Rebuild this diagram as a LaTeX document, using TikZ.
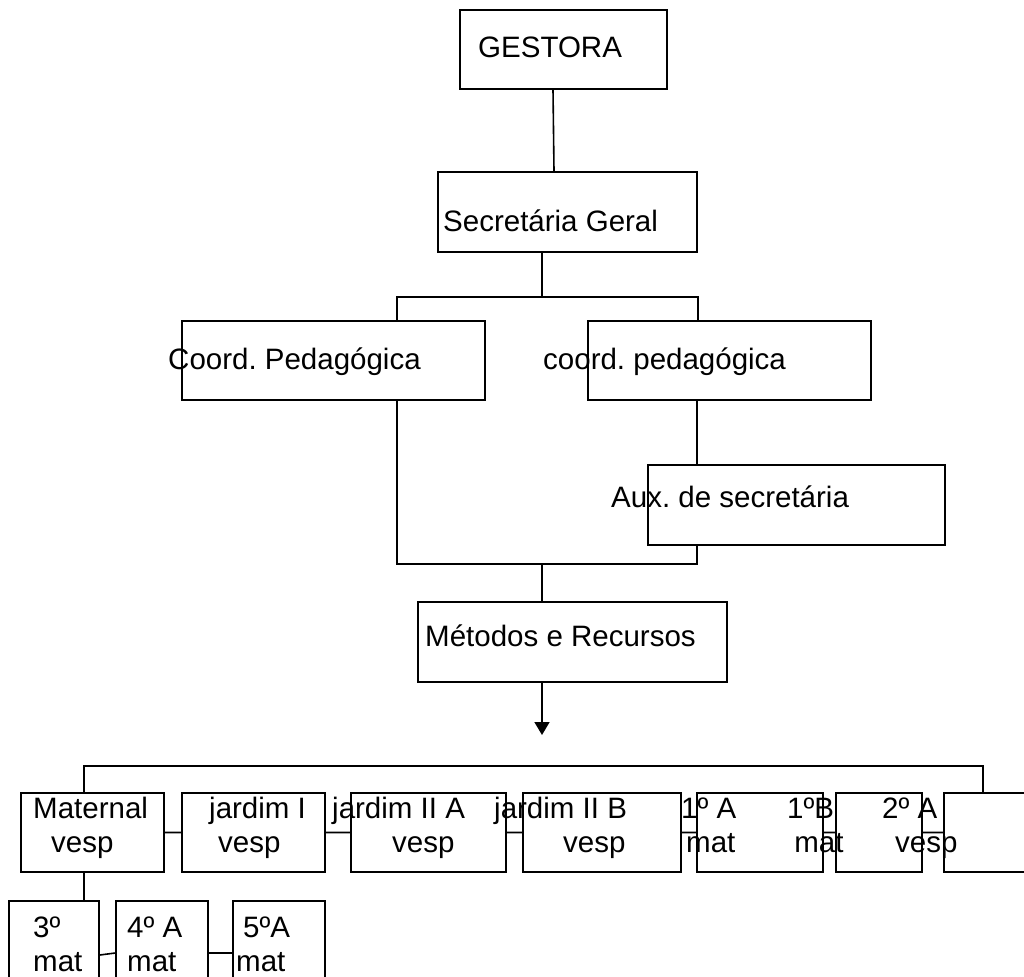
\documentclass[tikz,border=0pt]{standalone}
\usepackage{fontspec}
\setmainfont{Liberation Sans}
\frenchspacing
\usetikzlibrary{arrows.meta}
\newcommand{\twolines}[2]{\begin{tabular}[t]{@{}l@{}}#1\\#2\end{tabular}}
\newcommand{\rowheight}{79pt}
\tikzset{
    orgline/.style={line width=1.6pt},
    orgbox/.style={orgline, draw, rectangle, inner sep=0pt, minimum height=\rowheight},
    orgtext/.style={anchor=base west, inner sep=0pt},
    orgarrow/.style={orgline, -{Triangle[width=15pt, length=13pt]}}
}

\begin{document}
\begin{tikzpicture}[x=1pt, y=-1pt, font=\fontsize{29.5}{34}\selectfont]
    \useasboundingbox (0,0) rectangle (1024,976);

    % boxes
    \node[orgbox, minimum width=207pt] (gestora) at (563.5,49.5) {};
    \node[orgbox, minimum width=259pt, minimum height=80pt] (secretaria) at (567.5,212) {};
    \node[orgbox, minimum width=303pt] (coord-left) at (333.5,360.5) {};
    \node[orgbox, minimum width=283pt] (coord-right) at (729.5,360.5) {};
    \node[orgbox, minimum width=297pt, minimum height=80pt] (aux) at (796.5,505) {};
    \node[orgbox, minimum width=309pt, minimum height=80pt] (metodos) at (572.5,642) {};

    \node[orgbox, minimum width=143pt] (maternal) at (92.5,832.5) {};
    \node[orgbox, minimum width=143pt] (jardim-i) at (253.5,832.5) {};
    \node[orgbox, minimum width=155pt] (jardim-iia) at (428.5,832.5) {};
    \node[orgbox, minimum width=158pt] (jardim-iib) at (602,832.5) {};
    \node[orgbox, minimum width=126pt] (primeiro) at (760,832.5) {};
    \node[orgbox, minimum width=86pt] (segundo) at (879,832.5) {};
    \node[orgbox, minimum width=86pt] (vazio) at (987,832.5) {};

    \node[orgbox, minimum width=90pt] (terceiro) at (54,940.5) {};
    \node[orgbox, minimum width=92pt] (quarto) at (162,940.5) {};
    \node[orgbox, minimum width=92pt] (quinto) at (279,940.5) {};

    % texts
    \node[orgtext] (gestora-txt) at (478,58) {GESTORA};
    \node[orgtext] (secretaria-txt) at (443,232) {Secretária Geral};
    \node[orgtext] (coord-left-txt) at (168,369) {Coord. Pedagógica};
    \node[orgtext] (coord-right-txt) at (543,369) {coord. pedagógica};
    \node[orgtext] (aux-txt) at (611,507) {Aux. de secretária};
    \node[orgtext] (metodos-txt) at (425,646) {Métodos e Recursos};

    \node[orgtext] (maternal-txt) at (33,818) {\twolines{Maternal}{\hspace*{18pt}vesp}};
    \node[orgtext] (jardim-i-txt) at (209,818) {\twolines{jardim I}{\hspace*{9pt}vesp}};
    \node[orgtext] (jardim-iia-txt) at (332,818) {\twolines{jardim II A}{\hspace*{60pt}vesp}};
    \node[orgtext] (jardim-iib-txt) at (494,818) {\twolines{jardim II B}{\hspace*{69pt}vesp}};
    \node[orgtext] (primeiro-txt) at (681,818) {\twolines{1º A\hspace{51pt}1ºB}{\hspace*{5pt}mat\hspace{59pt}mat}};
    \node[orgtext] (segundo-txt) at (882,818) {\twolines{2º A}{\hspace*{13pt}vesp}};

    \node[orgtext] (terceiro-txt) at (33,937) {\twolines{3º}{mat}};
    \node[orgtext] (quarto-txt) at (127,937) {\twolines{4º A}{mat}};
    \node[orgtext] (quinto-txt) at (243,937) {\twolines{5ºA}{\hspace*{-7pt}mat}};

    \coordinate (fork-top) at (542,297);
    \coordinate (fork-low) at (542,564);
    \coordinate (arrow-tip) at (542,735);
    \coordinate (row-bus) at (542,766);

    \draw[orgline]
      ([xshift=-10.5pt]gestora.south) -- ([xshift=-13.5pt]secretaria.north)
      (secretaria.south -| fork-top) -- (fork-top)
      ([xshift=63.5pt]coord-left.north) |- (fork-top) -| ([xshift=-31.5pt]coord-right.north)
      ([xshift=-32.5pt]coord-right.south) -- ([xshift=-99.5pt]aux.north)
      ([xshift=63.5pt]coord-left.south) |- (fork-low) -| ([xshift=-99.5pt]aux.south)
      (fork-low) -- (metodos.north -| fork-low);

    \draw[orgarrow] (metodos.south -| arrow-tip) -- (arrow-tip);

    \draw[orgline]
      ([xshift=-8.5pt]maternal.north) |- (row-bus) -| ([xshift=-4pt]vazio.north)
      (maternal.east) -- (jardim-i.west)
      (jardim-i.east) -- (jardim-iia.west)
      (jardim-iia.east) -- (jardim-iib.west)
      (jardim-iib.east) -- (primeiro.west)
      (primeiro.east) -- (segundo.west)
      (segundo.east) -- (vazio.west)
      ([xshift=-8.5pt]maternal.south) -- ([xshift=30pt]terceiro.north)
      ([yshift=-14.5pt]terceiro.east) -- ([yshift=-12.5pt]quarto.west)
      ([yshift=-12.5pt]quarto.east) -- ([yshift=-12.5pt]quinto.west);
\end{tikzpicture}
\end{document}
